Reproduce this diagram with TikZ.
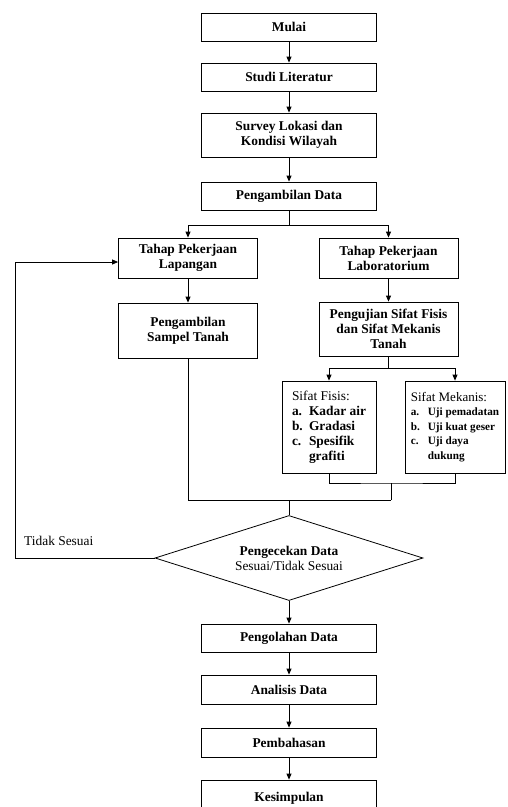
\documentclass[tikz,border=0pt]{standalone}
\usepackage{fontspec}
\setmainfont{Liberation Serif}
\usetikzlibrary{positioning,arrows.meta,shapes.geometric}
\tikzset{
  bx/.style={rectangle, draw=black, line width=0.8pt, minimum width=175pt, minimum height=28pt, align=center, inner sep=2pt, font=\fontsize{13.4}{15}\selectfont\bfseries},
  hbx/.style={bx, minimum width=139pt},
  lst/.style={rectangle, draw=black, line width=0.8pt, minimum height=92pt, align=left, inner sep=2pt},
  dec/.style={diamond, draw=black, line width=0.8pt, minimum width=268pt, minimum height=85pt, aspect=3.2, align=center, inner sep=1pt, font=\fontsize{13.4}{15}\selectfont},
  ar/.style={draw=black, line width=0.8pt, -{Triangle[length=6pt,width=5pt]}},
  ln/.style={draw=black, line width=0.8pt},
  lbl/.style={font=\fontsize{13.4}{15}\selectfont, inner sep=0pt}
}

\begin{document}
\begin{tikzpicture}[x=1pt, y=-1pt]
  \useasboundingbox (0,0) rectangle (507,807);

  % Main column
  \node[bx] (mulai) at (289,27) {Mulai};
  \node[bx] (studi) at (289,77) {Studi Literatur};
  \node[bx, minimum height=44pt] (survey) at (289,135) {Survey Lokasi dan\\Kondisi Wilayah};
  \node[bx] (ambil) at (289,196) {Pengambilan Data};

  % Field and laboratory stages
  \node[hbx, minimum height=40pt] (lap) at (188,258) {Tahap Pekerjaan\\Lapangan};
  \node[hbx, minimum height=40pt] (lab) at (388.5,258) {Tahap Pekerjaan\\Laboratorium};
  \node[hbx, minimum height=55pt] (sampel) at (188,330.5) {Pengambilan\\Sampel Tanah};
  \node[hbx, minimum height=54pt] (uji) at (388.5,329) {Pengujian Sifat Fisis\\dan Sifat Mekanis\\Tanah};

  % Test lists
  \node[lst, minimum width=94pt, font=\fontsize{13.4}{15}\selectfont\bfseries] (fisis) at (329,427)
    {{\mdseries Sifat Fisis:}\\
     \makebox[17pt][l]{a.}Kadar air\\
     \makebox[17pt][l]{b.}Gradasi\\
     \makebox[17pt][l]{c.}Spesifik\\
     \hspace*{17pt}grafiti};
  \node[lst, minimum width=100pt, font=\fontsize{11.2}{14.5}\selectfont\bfseries] (mekanis) at (455,427)
    {{\fontsize{13}{14}\selectfont\mdseries Sifat Mekanis:}\\
     \makebox[17pt][l]{a.}Uji pemadatan\\
     \makebox[17pt][l]{b.}Uji kuat geser\\
     \makebox[17pt][l]{c.}Uji daya\\
     \hspace*{17pt}dukung};

  % Data check
  \node[dec] (cek) at (289,558) {\textbf{Pengecekan Data}\\Sesuai/Tidak Sesuai};
  \node[lbl, anchor=base west] (tidak) at (24,545) {Tidak Sesuai};

  % Final steps
  \node[bx] (olah) at (289,638) {Pengolahan Data};
  \node[bx, minimum height=29pt] (analisis) at (289,689.5) {Analisis Data};
  \node[bx, minimum height=29pt] (bahas) at (289,742.5) {Pembahasan};
  \node[bx, minimum height=36pt] (simpul) at (289,798) {Kesimpulan};

  % Junctions
  \coordinate (split) at (289,225);
  \coordinate (split2) at (388.5,368);
  \coordinate (join) at (391,483);
  \coordinate (merge) at (391,500);
  \coordinate (back) at (15,262);

  % Connectors
  \draw[ar] (mulai) -- (studi);
  \draw[ar] (studi) -- (survey);
  \draw[ar] (survey) -- (ambil);
  \draw[ln] (ambil) -- (split);
  \draw[ar] (split) -| (lap);
  \draw[ar] (split) -| (lab);
  \draw[ar] (lap) -- (sampel);
  \draw[ar] (lab) -- (uji);
  \draw[ln] (uji) -- (split2);
  \draw[ar] (split2) -| (fisis);
  \draw[ar] (split2) -| (mekanis);
  \draw[ln] (fisis) |- (join) -| (mekanis);
  \draw[ln] (join) -- (merge);
  \draw[ln] (sampel) |- (merge);
  \draw[ln] (merge -| cek) -- (cek);
  \draw[ar] (cek) -| (back) -- (back -| lap.west);
  \draw[ar] (cek) -- (olah);
  \draw[ar] (olah) -- (analisis);
  \draw[ar] (analisis) -- (bahas);
  \draw[ar] (bahas) -- (simpul);
\end{tikzpicture}
\end{document}
